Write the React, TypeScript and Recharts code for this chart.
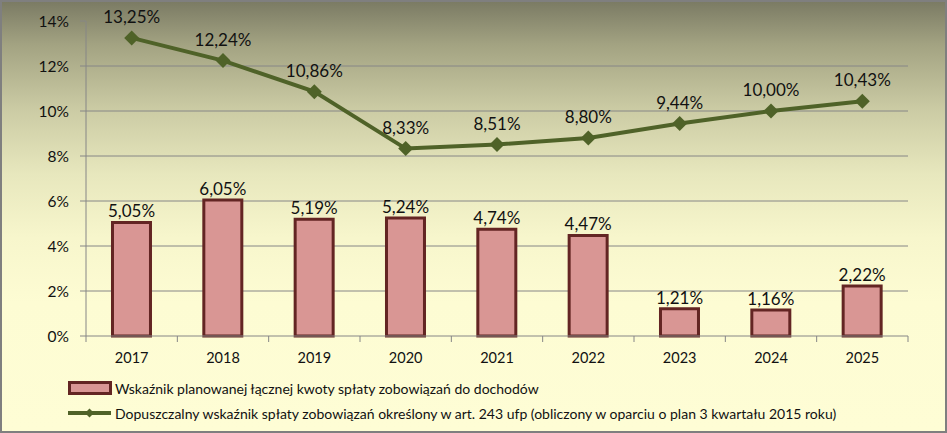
import React from 'react';
import {
  ComposedChart,
  Bar,
  Line,
  XAxis,
  YAxis,
  CartesianGrid,
  LabelList,
} from 'recharts';

// chart values (percent)
const years = ['2017', '2018', '2019', '2020', '2021', '2022', '2023', '2024', '2025'];
const plannedRatio = [5.05, 6.05, 5.19, 5.24, 4.74, 4.47, 1.21, 1.16, 2.22];
const allowedRatio = [13.25, 12.24, 10.86, 8.33, 8.51, 8.8, 9.44, 10.0, 10.43];
const yTicks = [0, 2, 4, 6, 8, 10, 12, 14];

const barName = 'Wskaźnik planowanej łącznej kwoty spłaty zobowiązań do dochodów';
const lineName =
  'Dopuszczalny wskaźnik spłaty zobowiązań określony w art. 243 ufp (obliczony w oparciu o plan 3 kwartału 2015 roku)';

const data = years.map((year, i) => ({
  year,
  planned: plannedRatio[i],
  allowed: allowedRatio[i],
}));

const W = 947;
const H = 433;
const FONT = 'Lato, "Noto Sans", sans-serif';
const BAR_FILL = '#d99694';
const BAR_STROKE = '#632523';
const LINE_COLOR = '#4f6228';
const AXIS = '#868686';

const fmt = (v: number) => `${v.toFixed(2).replace('.', ',')}%`;

const Diamond = ({ cx, cy }: any) => {
  if (cx == null || cy == null) return null;
  const r = 7.5;
  return (
    <path
      d={`M${cx},${cy - r}L${cx + r},${cy}L${cx},${cy + r}L${cx - r},${cy}Z`}
      fill={LINE_COLOR}
    />
  );
};

// x tick: label centred, tick mark at the category boundary (Excel style)
const XTick = ({ x, y, payload, index, visibleTicksCount }: any) => {
  const band = (908 - 86) / years.length;
  const left = x - band / 2;
  const last = index === (visibleTicksCount ?? years.length) - 1;
  return (
    <g>
      <line x1={left} y1={y - 8} x2={left} y2={y - 2} stroke={AXIS} />
      {last && <line x1={left + band} y1={y - 8} x2={left + band} y2={y - 2} stroke={AXIS} />}
      <text x={x} y={y + 19} textAnchor="middle" fontSize={14.5} fontFamily={FONT} fill="#111">
        {payload.value}
      </text>
    </g>
  );
};

export default function App() {
  return (
    <div
      style={{
        position: 'fixed',
        left: 0,
        top: 0,
        width: W,
        height: H,
        boxSizing: 'border-box',
        border: '2px solid #7f7f7f',
        background:
          'linear-gradient(to bottom, #7b7b64 0%, #a3a382 10%, #cbcba4 25%, #e7e7bd 40%, #f7f6cc 55%, #fdfcd3 70%, #fefdd5 100%)',
        fontFamily: FONT,
      }}
    >
      <div style={{ position: 'absolute', left: -2, top: -2 }}>
        <ComposedChart
          width={W}
          height={H}
          data={data}
          margin={{ top: 21, right: 39, bottom: 0, left: 0 }}
          barCategoryGap="29%"
        >
          <CartesianGrid
            vertical={false}
            stroke={AXIS}
            horizontalValues={[2, 4, 6, 8, 10, 12]}
          />
          <XAxis
            dataKey="year"
            height={97}
            axisLine={{ stroke: AXIS }}
            tickLine={false}
            tick={<XTick />}
            interval={0}
          />
          <YAxis
            width={86}
            domain={[0, 14]}
            ticks={yTicks}
            interval={0}
            axisLine={{ stroke: AXIS }}
            tickLine={{ stroke: AXIS }}
            tickSize={6}
            tickMargin={11}
            tickFormatter={(v) => `${v}%`}
            tick={{ fill: '#111', fontSize: 15.5, fontFamily: FONT }}
          />
          <Bar
            dataKey="planned"
            name={barName}
            fill={BAR_FILL}
            stroke={BAR_STROKE}
            strokeWidth={3}
            isAnimationActive={false}
          >
            <LabelList
              dataKey="planned"
              position="top"
              offset={5}
              formatter={(v: any) => fmt(Number(v))}
              style={{ fill: '#111', fontSize: 17, fontFamily: FONT }}
            />
          </Bar>
          <Line
            dataKey="allowed"
            name={lineName}
            stroke={LINE_COLOR}
            strokeWidth={4}
            dot={<Diamond />}
            activeDot={false}
            isAnimationActive={false}
          >
            <LabelList
              dataKey="allowed"
              position="top"
              offset={15}
              formatter={(v: any) => fmt(Number(v))}
              style={{ fill: '#111', fontSize: 17, fontFamily: FONT }}
            />
          </Line>
        </ComposedChart>
      </div>

      {/* legend */}
      <div style={{ position: 'absolute', left: 66, top: 374, fontSize: 14, color: '#111' }}>
        <div style={{ display: 'flex', alignItems: 'center', height: 24 }}>
          <svg width={47} height={16}>
            <rect x={1.5} y={2.5} width={41} height={11} fill={BAR_FILL} stroke={BAR_STROKE} strokeWidth={3} />
          </svg>
          <span>{barName}</span>
        </div>
        <div style={{ display: 'flex', alignItems: 'center', height: 26 }}>
          <svg width={47} height={16}>
            <line x1={0} y1={8} x2={43} y2={8} stroke={LINE_COLOR} strokeWidth={4} />
            <path d="M21.5,3.5L26,8L21.5,12.5L17,8Z" fill={LINE_COLOR} />
          </svg>
          <span>{lineName}</span>
        </div>
      </div>
    </div>
  );
}
